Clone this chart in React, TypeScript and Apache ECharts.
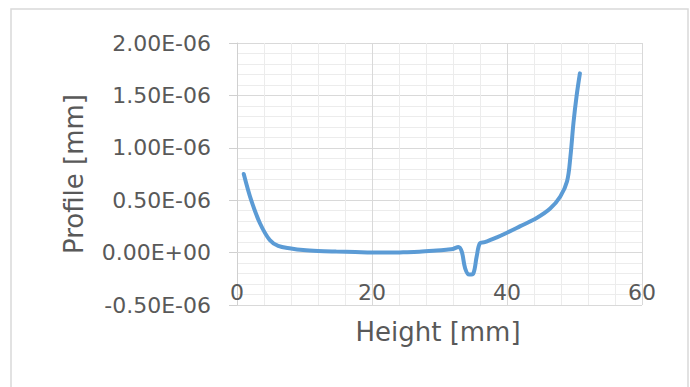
import React, { useEffect, useRef } from "react";
import * as echarts from "echarts";

// Height [mm]
const heights = [
  1.0, 2.1, 3.4, 4.85, 6.1, 8.0, 9.8, 12.0, 14.7, 17.5, 20.0, 22.5, 24.6, 27.0, 29.6, 31.0, 32.0,
  32.8, 33.3, 33.8, 34.4, 35.0, 35.5, 36.0, 36.7, 38.5, 40.0, 41.9, 44.4, 46.4, 47.9, 48.9, 49.4,
  49.85, 50.3, 50.8,
];
// Profile [mm]
const profile = [
  0.75e-6, 0.5e-6, 0.28e-6, 0.12e-6, 0.064e-6, 0.04e-6, 0.025e-6, 0.016e-6, 0.01e-6, 0.005e-6,
  0.0, 0.0, 0.003e-6, 0.008e-6, 0.02e-6, 0.028e-6, 0.035e-6, 0.054e-6, 0.01e-6, -0.15e-6,
  -0.21e-6, -0.2e-6, -0.04e-6, 0.09e-6, 0.1e-6, 0.146e-6, 0.19e-6, 0.25e-6, 0.33e-6, 0.42e-6,
  0.535e-6, 0.68e-6, 0.92e-6, 1.24e-6, 1.49e-6, 1.71e-6,
];
const yTickLabels = ["-0.50E-06", "0.00E+00", "0.50E-06", "1.00E-06", "1.50E-06", "2.00E-06"];
const xTickLabels = ["0", "20", "40", "60"];

const Y_MIN = -0.5e-6;
const Y_MAX = 2e-6;
const Y_INT = 0.5e-6;

export default function App() {
  const ref = useRef<HTMLDivElement>(null);
  useEffect(() => {
    if (!ref.current) return;
    const chart = echarts.init(ref.current, undefined, { renderer: "svg" });
    const font = "DejaVu Sans";
    const textColor = "#595959";
    chart.setOption({
      animation: false,
      backgroundColor: "#ffffff",
      grid: { left: 237, right: 48, top: 43, bottom: 82, containLabel: false },
      xAxis: {
        type: "value",
        min: 0,
        max: 60,
        interval: 20,
        axisLine: { show: true, lineStyle: { color: "#d9d9d9", width: 1 } },
        axisTick: { show: false },
        minorTick: { show: false, splitNumber: 5 },
        minorSplitLine: { show: true, lineStyle: { color: "#ececec", width: 1 } },
        splitLine: { show: true, lineStyle: { color: "#d9d9d9", width: 1 } },
        axisLabel: {
          inside: true,
          margin: 2,
          color: textColor,
          fontFamily: font,
          fontSize: 22,
          formatter: (v: number) => xTickLabels[Math.round(v / 20)] ?? "",
        },
      },
      yAxis: {
        type: "value",
        min: Y_MIN,
        max: Y_MAX,
        interval: Y_INT,
        axisLine: { show: true, lineStyle: { color: "#d0d0d0", width: 1 } },
        axisTick: { show: true, inside: false, length: 8, lineStyle: { color: "#d0d0d0" } },
        minorTick: { show: false, splitNumber: 5 },
        minorSplitLine: { show: true, lineStyle: { color: "#ececec", width: 1 } },
        splitLine: { show: true, lineStyle: { color: "#d9d9d9", width: 1 } },
        axisLabel: {
          margin: 26,
          color: textColor,
          fontFamily: font,
          fontSize: 22,
          formatter: (v: number) => yTickLabels[Math.round((v - Y_MIN) / Y_INT)] ?? "",
        },
      },
      series: [
        {
          type: "line",
          data: heights.map((h, i) => [h, profile[i]]),
          smooth: 0.35,
          showSymbol: false,
          lineStyle: { color: "#5b9bd5", width: 4, cap: "round" },
          itemStyle: { color: "#5b9bd5" },
        },
      ],
      graphic: [
        {
          type: "rect",
          shape: { x: 11, y: 9, width: 677, height: 400 },
          style: { fill: "none", stroke: "#d9d9d9", lineWidth: 1.5 },
          silent: true,
        },
        {
          type: "text",
          x: 438,
          y: 332,
          style: {
            text: "Height [mm]",
            font: `26px "${font}"`,
            fill: textColor,
            align: "center",
            verticalAlign: "middle",
          },
        },
        {
          type: "text",
          x: 74,
          y: 174,
          rotation: Math.PI / 2,
          style: {
            text: "Profile [mm]",
            font: `26px "${font}"`,
            fill: textColor,
            align: "center",
            verticalAlign: "middle",
          },
        },
      ],
    });
    return () => chart.dispose();
  }, []);
  return (
    <div
      ref={ref}
      style={{ position: "fixed", left: 0, top: 0, width: 690, height: 387, background: "#fff" }}
    />
  );
}
